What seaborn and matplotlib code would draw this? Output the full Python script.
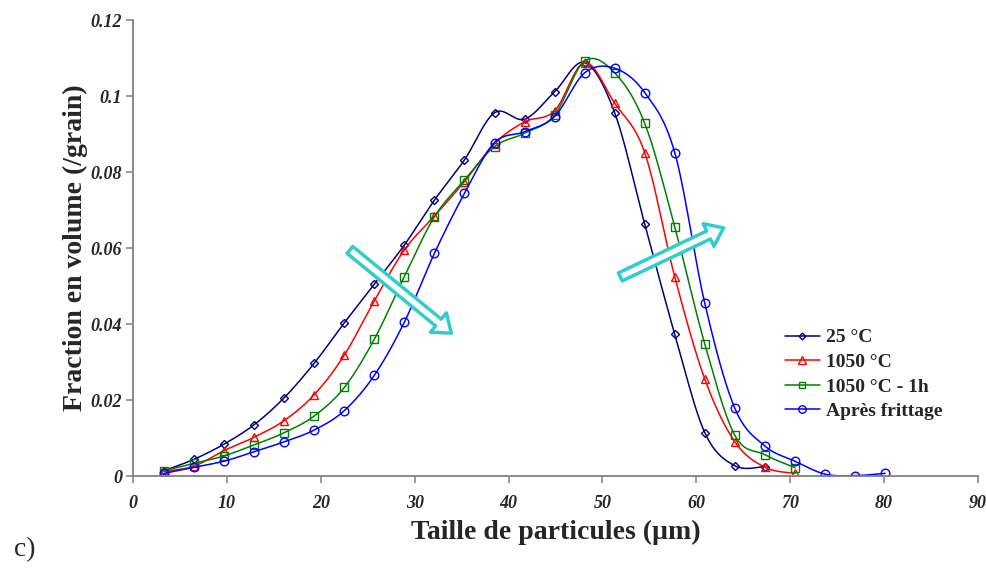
import seaborn as sns
import matplotlib.pyplot as plt
import numpy as np
from matplotlib.lines import Line2D

# Diamètres des classes (µm)
taille = [3.3, 6.5, 9.7, 12.9, 16.1, 19.3, 22.5, 25.7, 28.9, 32.1, 35.3, 38.5,
          41.7, 44.9, 48.1, 51.3, 54.5, 57.7, 60.9, 64.1, 67.3, 70.5, 73.7,
          76.9, 80.1]

frac_25 = [0.0014, 0.0044, 0.0084, 0.0135, 0.0206, 0.0297, 0.0403, 0.0505,
           0.0608, 0.0726, 0.0832, 0.0956, 0.0939, 0.1011, 0.1088, 0.0956,
           0.0663, 0.0373, 0.0114, 0.0027, 0.0025]
frac_1050 = [0.0012, 0.0026, 0.0067, 0.0102, 0.0146, 0.0214, 0.0318, 0.0461,
             0.0595, 0.0684, 0.0775, 0.0875, 0.0932, 0.0961, 0.1088, 0.0981,
             0.0851, 0.0524, 0.0255, 0.0090, 0.0023, 0.0007]
frac_1050_1h = [0.0014, 0.0033, 0.0053, 0.0082, 0.0114, 0.0158, 0.0233, 0.0360,
                0.0525, 0.0682, 0.0779, 0.0867, 0.0902, 0.0950, 0.1092, 0.1061,
                0.0928, 0.0656, 0.0347, 0.0107, 0.0056, 0.0022]
frac_fritte = [0.0007, 0.0023, 0.0039, 0.0064, 0.0090, 0.0121, 0.0172, 0.0265,
               0.0405, 0.0586, 0.0744, 0.0877, 0.0906, 0.0946, 0.1061, 0.1073,
               0.1009, 0.0851, 0.0454, 0.0178, 0.0079, 0.0039, 0.0005, 0.0001,
               0.0007]

series = [
    ('25 °C', frac_25, '#000080', 'D', 4.2),
    ('1050 °C', frac_1050, '#FF0000', '^', 6.0),
    ('1050 °C - 1h', frac_1050_1h, '#008000', 's', 5.8),
    ('Après frittage', frac_fritte, '#0000FF', 'o', 6.2),
]


def lissage(x, y, n=20):
    # courbe lissée type Excel (Catmull-Rom)
    p = np.column_stack([x, y])
    p = np.vstack([p[0], p, p[-1]])
    out = []
    for i in range(1, len(p) - 2):
        p0, p1, p2, p3 = p[i - 1], p[i], p[i + 1], p[i + 2]
        t = np.linspace(0, 1, n, endpoint=False)[:, None]
        c = 0.5 * ((2 * p1) + (-p0 + p2) * t + (2 * p0 - 5 * p1 + 4 * p2 - p3) * t ** 2
                   + (-p0 + 3 * p1 - 3 * p2 + p3) * t ** 3)
        out.append(c)
    out.append(p[-2][None, :])
    out = np.vstack(out)
    return out[:, 0], out[:, 1]


sns.set_style('white')
plt.rcParams['font.family'] = ['Liberation Serif', 'DejaVu Serif']

fig = plt.figure(figsize=(9.87, 5.70), dpi=100)
ax = fig.add_axes([0.1348, 0.1649, 0.8561, 0.8000])

handles = []
for nom, vals, col, mk, ms in series:
    xs = taille[:len(vals)]
    sx, sy = lissage(xs, vals)
    sns.lineplot(x=sx, y=sy, color=col, lw=1.1, sort=False, estimator=None, ax=ax)
    ax.plot(xs, vals, ls='none', marker=mk, ms=ms, mfc='none', mec=col, mew=1.0)
    handles.append(Line2D([], [], color=col, lw=1.1, marker=mk, ms=ms - 0.8,
                          mfc='none', mec=col, mew=1.0, label=nom))

# flèches
for (x0, y0), (x1, y1) in [((23.1, 0.0595), (33.9, 0.0376)),
                           ((51.9, 0.0524), (62.9, 0.0653))]:
    ax.annotate('', xy=(x1, y1), xytext=(x0, y0),
                arrowprops=dict(arrowstyle='simple,head_length=0.6,head_width=0.9,tail_width=0.32',
                                mutation_scale=20, fc='white', ec='#33CCCC', lw=2.5,
                                shrinkA=0, shrinkB=0))

ax.set_xlim(0, 90)
ax.set_ylim(0, 0.12)
ax.set_xticks(np.arange(0, 91, 10))
ax.set_yticks([0, 0.02, 0.04, 0.06, 0.08, 0.1, 0.12])
ax.set_yticklabels(['0', '0.02', '0.04', '0.06', '0.08', '0.1', '0.12'])
for lab in ax.get_xticklabels() + ax.get_yticklabels():
    lab.set_fontweight('bold')
    lab.set_fontstyle('italic')
    lab.set_fontsize(13)

sns.despine(ax=ax)
for s in ['left', 'bottom']:
    ax.spines[s].set_color('#808080')
    ax.spines[s].set_linewidth(1.3)
ax.tick_params(axis='both', direction='out', length=5, width=1.1, color='#808080',
               left=True, bottom=True)
ax.tick_params(axis='x', pad=9)
ax.tick_params(axis='y', pad=3)

ax.set_xlabel('Taille de particules (µm)', fontsize=20, fontweight='bold', labelpad=5)
ax.set_ylabel('Fraction en volume (/grain)', fontsize=20, fontweight='bold', labelpad=2)

ax.legend(handles=handles, loc='upper left', bbox_to_anchor=(0.762, 0.34),
          frameon=False, prop={'weight': 'bold', 'size': 14},
          handlelength=1.8, handletextpad=0.3, labelspacing=0.36, borderaxespad=0)

fig.text(0.014, 0.025, 'c)', fontsize=20)

fig.savefig('out.png', dpi=100)
